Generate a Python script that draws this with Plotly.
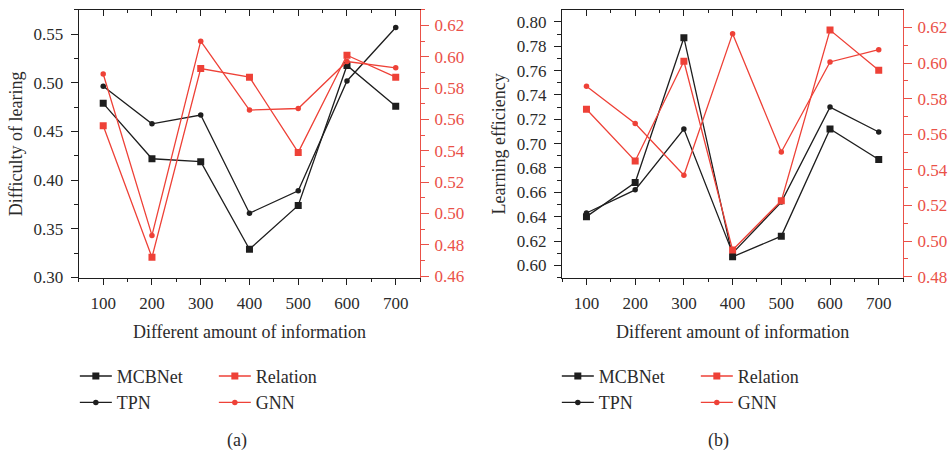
import plotly.graph_objects as go

# Amount of information (x axis categories)
amounts = [100, 200, 300, 400, 500, 600, 700]

# (a) Difficulty of learning — MCBNet/TPN on left axis, Relation/GNN on right axis
diff_mcbnet = [0.479, 0.422, 0.419, 0.329, 0.374, 0.518, 0.476]
diff_tpn = [0.4965, 0.458, 0.467, 0.366, 0.389, 0.502, 0.557]
diff_relation = [0.556, 0.472, 0.5925, 0.587, 0.539, 0.601, 0.587]
diff_gnn = [0.589, 0.486, 0.610, 0.566, 0.567, 0.597, 0.593]

# (b) Learning efficiency — MCBNet/TPN on left axis, Relation/GNN on right axis
eff_mcbnet = [0.640, 0.668, 0.787, 0.607, 0.624, 0.712, 0.687]
eff_tpn = [0.643, 0.662, 0.712, 0.610, 0.652, 0.730, 0.7095]
eff_relation = [0.574, 0.545, 0.601, 0.495, 0.5226, 0.6185, 0.596]
eff_gnn = [0.587, 0.566, 0.537, 0.6165, 0.550, 0.6006, 0.6075]

W, H = 948, 455
FONT = "Liberation Serif, Times New Roman, serif"
BLACK = "#1e1e1e"
RED = "#ee4137"
AXIS_RED = "#ea5148"
TEXT = "#2b2b2b"

fig = go.Figure()


def px_x(p):
    return p / W


def px_y(p):
    return 1 - p / H


def add_series(xa, ya_left, ya_right, legend, y_black1, y_black2, y_red1, y_red2):
    common = dict(x=amounts, mode="lines+markers", legend=legend, hoverinfo="x+y")
    fig.add_trace(go.Scatter(y=y_black1, name="MCBNet", xaxis=xa, yaxis=ya_left,
                             legendgroup=legend + "k", line=dict(color=BLACK, width=1.3),
                             marker=dict(symbol="square", size=7, color=BLACK), **common))
    fig.add_trace(go.Scatter(y=y_black2, name="TPN", xaxis=xa, yaxis=ya_left,
                             legendgroup=legend + "k", line=dict(color=BLACK, width=1.3),
                             marker=dict(symbol="circle", size=5.5, color=BLACK), **common))
    fig.add_trace(go.Scatter(y=y_red1, name="Relation", xaxis=xa, yaxis=ya_right,
                             legendgroup=legend + "r", line=dict(color=RED, width=1.3),
                             marker=dict(symbol="square", size=7, color=RED), **common))
    fig.add_trace(go.Scatter(y=y_red2, name="GNN", xaxis=xa, yaxis=ya_right,
                             legendgroup=legend + "r", line=dict(color=RED, width=1.3),
                             marker=dict(symbol="circle", size=5.5, color=RED), **common))


add_series("x", "y", "y2", "legend", diff_mcbnet, diff_tpn, diff_relation, diff_gnn)
add_series("x2", "y3", "y4", "legend2", eff_mcbnet, eff_tpn, eff_relation, eff_gnn)

# empty traces so the top (inside-tick) frame axes get drawn
fig.add_trace(go.Scatter(x=[], y=[], xaxis="x3", yaxis="y", showlegend=False))
fig.add_trace(go.Scatter(x=[], y=[], xaxis="x4", yaxis="y3", showlegend=False))

tick_font = dict(family=FONT, size=17, color=TEXT)
title_font = dict(family=FONT, size=18, color=TEXT)
y_dom = [px_y(283.5), px_y(10)]


def bottom_axis(dom):
    return dict(domain=dom, range=[50, 750], tick0=0, dtick=100, ticks="outside",
                ticklen=6, tickwidth=1, tickcolor=BLACK, showline=True, linecolor=BLACK,
                linewidth=1.2, showgrid=False, zeroline=False, tickfont=tick_font,
                ticklabelstandoff=4,
                minor=dict(tick0=0, dtick=50, ticks="outside", ticklen=3, tickcolor=BLACK),
                title=dict(text="Different amount of information", font=title_font, standoff=13))


def top_axis(over):
    return dict(overlaying=over, side="top", range=[50, 750], tick0=0, dtick=100,
                ticks="inside", ticklen=6, tickcolor=BLACK, showticklabels=False,
                showline=True, linecolor=BLACK, linewidth=1.2, showgrid=False, zeroline=False,
                minor=dict(tick0=0, dtick=50, ticks="inside", ticklen=3, tickcolor=BLACK))


def left_axis(anchor, rng, dtick, title):
    return dict(domain=y_dom, anchor=anchor, range=rng, tick0=0, dtick=dtick,
                tickformat=".2f", ticks="outside", ticklen=7, tickwidth=1, tickcolor=BLACK,
                showline=True, linecolor=BLACK, linewidth=1.2, showgrid=False,
                zeroline=False, tickfont=tick_font, ticklabelstandoff=4,
                minor=dict(tick0=0, dtick=dtick / 2, ticks="outside", ticklen=4,
                           tickcolor=BLACK),
                title=dict(text=title, font=title_font, standoff=6))


def right_axis(anchor, over, rng):
    return dict(overlaying=over, anchor=anchor, side="right", range=rng, tick0=0,
                dtick=0.02, tickformat=".2f", ticks="outside", ticklen=8, tickwidth=1,
                tickcolor=AXIS_RED, showline=True, linecolor=AXIS_RED, linewidth=1.2,
                showgrid=False, zeroline=False, ticklabelstandoff=2,
                tickfont=dict(family=FONT, size=17, color=AXIS_RED),
                minor=dict(tick0=0, dtick=0.01, ticks="outside", ticklen=4,
                           tickcolor=AXIS_RED))


dom_a = [px_x(79), px_x(421)]
dom_b = [px_x(563.3), px_x(905)]

legend_style = dict(orientation="h", traceorder="grouped", xanchor="left", yanchor="top",
                    entrywidth=92, entrywidthmode="pixels", itemwidth=32,
                    bgcolor="rgba(0,0,0,0)", font=dict(family=FONT, size=18, color=TEXT))

fig.update_layout(
    width=W, height=H,
    margin=dict(l=0, r=0, t=0, b=0),
    paper_bgcolor="white", plot_bgcolor="white",
    font=dict(family=FONT, color=TEXT),
    xaxis=dict(anchor="y", **bottom_axis(dom_a)),
    xaxis2=dict(anchor="y3", **bottom_axis(dom_b)),
    xaxis3=dict(anchor="y", **top_axis("x")),
    xaxis4=dict(anchor="y3", **top_axis("x2")),
    yaxis=left_axis("x", [0.2995, 0.5752], 0.05, "Difficulty of learing"),
    yaxis2=right_axis("x", "y", [0.4589, 0.630]),
    yaxis3=left_axis("x2", [0.5897, 0.8099], 0.02, "Learning efficiency"),
    yaxis4=right_axis("x2", "y3", [0.4793, 0.6299]),
    legend=dict(x=px_x(75), y=px_y(365), **legend_style),
    legend2=dict(x=px_x(558), y=px_y(365), **legend_style),
    annotations=[
        dict(text="(a)", x=px_x(237), y=px_y(449), xref="paper", yref="paper",
             xanchor="center", yanchor="middle", showarrow=False,
             font=dict(family=FONT, size=18, color=TEXT)),
        dict(text="(b)", x=px_x(720), y=px_y(449), xref="paper", yref="paper",
             xanchor="center", yanchor="middle", showarrow=False,
             font=dict(family=FONT, size=18, color=TEXT)),
    ],
)

fig.write_html("out.html")
